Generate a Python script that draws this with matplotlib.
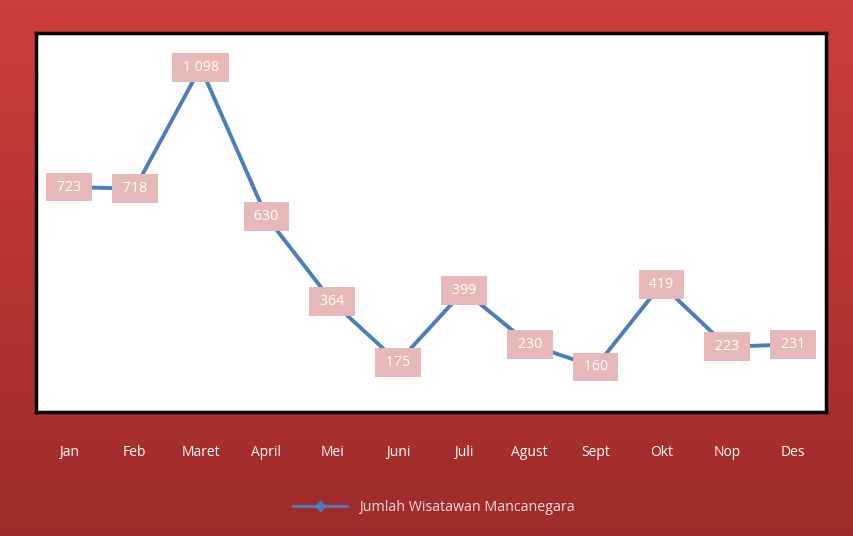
import numpy as np
import matplotlib.pyplot as plt
from matplotlib.lines import Line2D

months = ["Jan", "Feb", "Maret", "April", "Mei", "Juni", "Juli", "Agust", "Sept", "Okt", "Nop", "Des"]
values = [723, 718, 1098, 630, 364, 175, 399, 230, 160, 419, 223, 231]
labels = ["723", "718", "1 098", "630", "364", "175", "399", "230", "160", "419", "223", "231"]
series_name = "Jumlah Wisatawan Mancanegara"

plt.rcParams['font.family'] = ['Open Sans', 'DejaVu Sans']

fig = plt.figure(figsize=(8.54, 5.36), dpi=100)

# gradient background
bg = fig.add_axes([0, 0, 1, 1], zorder=0)
top = np.array([0xCE, 0x3E, 0x39]) / 255
bot = np.array([0x9E, 0x2B, 0x2B]) / 255
t = np.linspace(0, 1, 256)[:, None]
grad = top[None, :] * (1 - t) + bot[None, :] * t
bg.imshow(grad[:, None, :], aspect='auto', extent=[0, 1, 0, 1], origin='upper')
bg.set_xlim(0, 1); bg.set_ylim(0, 1)
bg.axis('off')

ax = fig.add_axes([0.0422, 0.2313, 0.925, 0.7071], zorder=2)
ax.set_facecolor('white')
x = np.arange(len(months))
ax.plot(x, values, color='#4A7EBB', lw=2.8, solid_joinstyle='round', zorder=2)
for xi, v, lab in zip(x, values, labels):
    ax.text(xi, v, f" {lab} ", ha='center', va='center', color='white', fontsize=10.3,
            bbox=dict(boxstyle='square,pad=0.48', fc='#E6B8B7', ec='none'), zorder=3)
ax.set_xlim(-0.5, 11.5)
ax.set_ylim(19, 1205)
ax.set_yticks([])
ax.set_xticks(x)
ax.set_xticklabels(months, color='white', fontsize=10)
ax.tick_params(axis='x', length=0, pad=23.5)
for s in ax.spines.values():
    s.set_color('black')
    s.set_linewidth(2.5)

handle = Line2D([], [], color='#4A7EBB', lw=2, marker='D', markersize=5)
leg = fig.legend([handle], [series_name], loc='center', bbox_to_anchor=(0.508, 0.054),
                 frameon=False, fontsize=10.3, handlelength=3.8)
for txt in leg.get_texts():
    txt.set_color('#F2DCDB')

fig.savefig('out.png', dpi=100)
